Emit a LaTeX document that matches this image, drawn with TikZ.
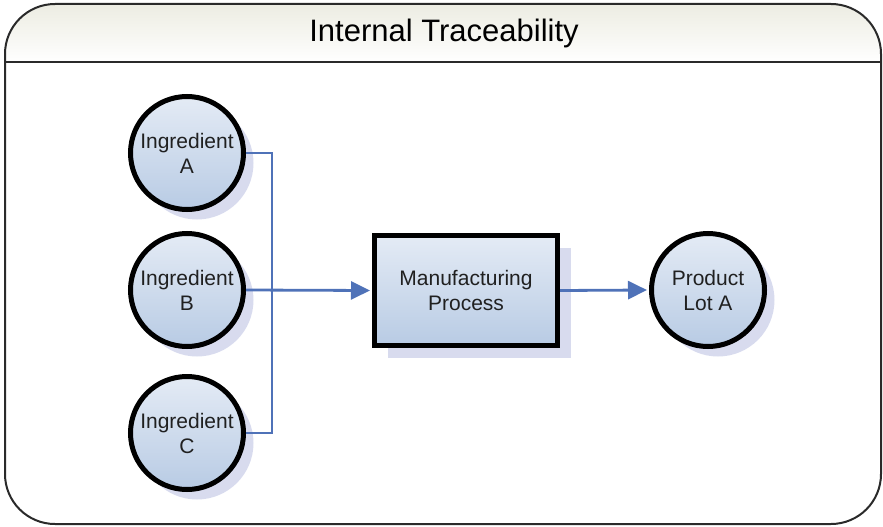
\documentclass[tikz,border=0pt]{standalone}
\usepackage{fontspec}
\setmainfont{Liberation Sans}
\usetikzlibrary{arrows.meta,shadows}
\definecolor{framec}{HTML}{2A2A2A}
\definecolor{connc}{HTML}{4F72B8}
\definecolor{shadowc}{HTML}{D8DBEE}
\definecolor{fillA}{HTML}{E4EBF5}
\definecolor{fillB}{HTML}{B8CBE4}
\definecolor{titletop}{HTML}{ECECE2}
\definecolor{textc}{HTML}{202020}
\begin{document}
\begin{tikzpicture}[x=1pt,y=-1pt,
  ing/.style={circle, draw=black, line width=5pt, minimum size=113pt, inner sep=0pt,
    align=center, text=textc, font=\fontsize{21}{25}\selectfont,
    top color=fillA, bottom color=fillB,
    drop shadow={shadow xshift=10pt, shadow yshift=-10pt, fill=shadowc, opacity=1}},
  proc/.style={rectangle, draw=black, line width=5pt, minimum width=183pt, minimum height=110pt,
    inner sep=0pt, align=center, text=textc, font=\fontsize{21}{25}\selectfont,
    top color=fillA, bottom color=fillB,
    drop shadow={shadow xshift=13pt, shadow yshift=-12pt, fill=shadowc, opacity=1}},
  conn/.style={draw=connc, line width=2.8pt},
  arr/.style={conn, -{Triangle[length=19pt,width=18pt]}, shorten >=2pt}]
\useasboundingbox (0,0) rectangle (883,527);
% title bar background
\begin{scope}
  \clip[rounded corners=50pt] (5,4) rectangle (881,524);
  \shade[top color=titletop, bottom color=white] (5,4) rectangle (881,62);
\end{scope}
% frame
\draw[framec, line width=2pt, rounded corners=50pt] (5,4) rectangle (881,524);
\draw[framec, line width=2pt] (5,62) -- (881,62);
\node[text=black, font=\fontsize{31}{36}\selectfont] (title) at (444,33) {Internal Traceability};
% nodes
\node[ing] (A) at (187,153) {Ingredient\\A};
\node[ing] (B) at (187,290) {Ingredient\\B};
\node[ing] (C) at (187,433) {Ingredient\\C};
\node[proc] (M) at (466,290.5) {Manufacturing\\Process};
\node[ing] (P) at (708,290) {Product\\Lot A};
% connectors
\coordinate (busA) at (272,153);
\coordinate (busC) at (272,433);
\draw[conn] (A.east) -- (busA) -- (busC) -- (C.east);
\draw[arr] (B.east) -- (M.west);
\draw[arr] (M.east) -- (P.west);
\end{tikzpicture}
\end{document}
